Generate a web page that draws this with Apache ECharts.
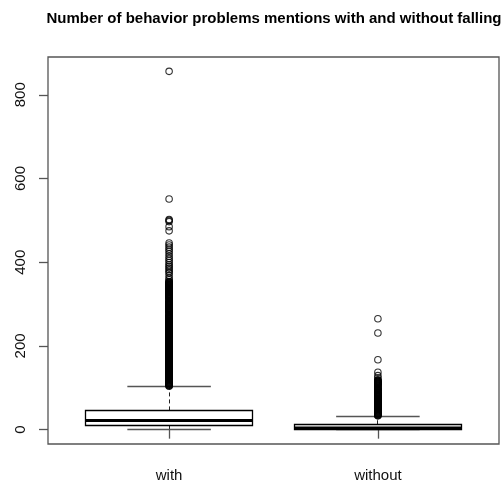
<!DOCTYPE html>
<html>
<head>
<meta charset="utf-8">
<script src="https://cdn.jsdelivr.net/npm/echarts@6/dist/echarts.min.js"></script>
<style>
  html, body { margin: 0; padding: 0; background: #fff; }
  #chart { width: 501px; height: 491px; }
</style>
</head>
<body>
<div id="chart"></div>
<script>
// Groups and their five-number summaries
const categories = ['with', 'without'];
const whiskerLow  = [0, 0];
const quartile1   = [10, 1];
const medians     = [22, 4];
const quartile3   = [46, 13];
const whiskerHigh = [102, 32];

// Points beyond the upper whisker, per group
const outliersWith = [
  104, 105, 106, 107, 108, 109, 110, 111, 112, 113, 114, 115, 116, 117, 118, 119,
  120, 121, 122, 123, 124, 125, 126, 127, 128, 129, 130, 131, 132, 133, 134, 135,
  136, 137, 138, 139, 140, 141, 142, 143, 144, 145, 146, 147, 148, 149, 150, 151,
  152, 153, 154, 155, 156, 157, 158, 159, 160, 161, 162, 163, 164, 165, 166, 167,
  168, 169, 170, 171, 172, 173, 174, 175, 176, 177, 178, 179, 180, 181, 182, 183,
  184, 185, 186, 187, 188, 189, 190, 191, 192, 193, 194, 195, 196, 197, 198, 199,
  200, 201, 202, 203, 204, 205, 206, 207, 208, 209, 210, 211, 212, 213, 214, 215,
  216, 217, 218, 219, 220, 221, 222, 223, 224, 225, 226, 227, 228, 229, 230, 231,
  232, 233, 234, 235, 236, 237, 238, 239, 240, 241, 242, 243, 244, 245, 246, 247,
  248, 249, 250, 251, 252, 253, 254, 255, 256, 257, 258, 259, 260, 261, 262, 263,
  264, 265, 266, 267, 268, 269, 270, 271, 272, 273, 274, 275, 279, 280, 281, 282,
  283, 284, 285, 286, 287, 288, 289, 290, 291, 292, 293, 294, 295, 296, 297, 298,
  299, 300, 301, 302, 303, 304, 305, 306, 307, 308, 312, 313, 314, 315, 316, 317,
  318, 319, 320, 321, 322, 323, 324, 325, 326, 327, 328, 329, 330, 331, 332, 333,
  334, 335, 336, 337, 338, 339, 340, 341, 342, 343, 344, 345, 346, 347, 348, 349,
  350, 351, 352, 353, 354,
  358, 362, 368, 374, 378, 382, 386, 390, 394, 399, 404, 409, 414, 420, 426, 431,
  436, 441, 446, 475, 485, 497, 500, 502, 551, 856
];
const outliersWithout = [
  33, 34, 35, 36, 37, 38, 39, 40, 41, 42, 43, 44, 45, 46, 47, 48, 49, 50, 51, 52,
  53, 54, 55, 56, 57, 58, 59, 60, 61, 62, 63, 64, 65, 66, 67, 68, 69, 70, 71, 72,
  73, 74, 75, 76, 77, 78, 79, 80, 81, 82, 83, 84, 85, 86, 87, 88, 89, 90, 93, 94,
  95, 96, 97, 98, 99, 100, 104, 105, 106, 107, 108, 109, 110, 111, 112, 113, 114,
  115, 116, 117, 118, 119, 124, 129, 137, 167, 231, 265
];

// Value axis ticks
const yTicks = [0, 200, 400, 600, 800];
const xTicks = [1, 2];

const boxData = categories.map((c, i) => [
  i + 1, whiskerLow[i], quartile1[i], medians[i], quartile3[i], whiskerHigh[i]
]);
const outlierData = [];
outliersWith.forEach(v => outlierData.push([1, v]));
outliersWithout.forEach(v => outlierData.push([2, v]));

const boxHalf = 0.4;   // half box width in group units
const capHalf = 0.2;   // half staple width

function crisp(v) { return Math.round(v - 0.5) + 0.5; }

function renderBox(params, api) {
  const x = api.value(0);
  const lo = api.value(1), q1 = api.value(2), med = api.value(3),
        q3 = api.value(4), hi = api.value(5);
  const pL = api.coord([x - boxHalf, q3]);
  const pR = api.coord([x + boxHalf, q1]);
  const pMedL = api.coord([x - boxHalf, med]);
  const pMedR = api.coord([x + boxHalf, med]);
  const pc = api.coord([x, 0]);
  const cx = crisp(pc[0]);
  const yLo = api.coord([x, lo])[1], yHi = api.coord([x, hi])[1];
  const yQ1 = api.coord([x, q1])[1], yQ3 = api.coord([x, q3])[1];
  const capL = api.coord([x - capHalf, hi])[0], capR = api.coord([x + capHalf, hi])[0];
  const ink = '#000';
  const wisk = '#555';
  return {
    type: 'group',
    children: [
      // whiskers
      { type: 'line', shape: { x1: cx, y1: yQ3, x2: cx, y2: yHi },
        style: { stroke: '#222', lineWidth: 1, lineDash: [4, 3] } },
      { type: 'line', shape: { x1: cx, y1: yQ1, x2: cx, y2: yLo },
        style: { stroke: '#222', lineWidth: 1, lineDash: [4, 3] } },
      // staples
      { type: 'line', shape: { x1: capL, y1: crisp(yHi), x2: capR, y2: crisp(yHi) },
        style: { stroke: wisk, lineWidth: 1.3 } },
      { type: 'line', shape: { x1: capL, y1: crisp(yLo), x2: capR, y2: crisp(yLo) },
        style: { stroke: wisk, lineWidth: 1.3 } },
      // box
      { type: 'rect',
        shape: { x: crisp(pL[0]), y: crisp(pL[1]), width: Math.round(pR[0] - pL[0]), height: Math.round(pR[1] - pL[1]) },
        style: { fill: 'rgba(0,0,0,0)', stroke: ink, lineWidth: 1.3 } },
      // median
      { type: 'line', shape: { x1: pMedL[0], y1: pMedL[1], x2: pMedR[0], y2: pMedR[1] },
        style: { stroke: ink, lineWidth: 3 } }
    ]
  };
}

const chart = echarts.init(document.getElementById('chart'), null, { renderer: 'canvas' });
chart.setOption({
  animation: false,
  backgroundColor: '#fff',
  title: {
    text: 'Number of behavior problems mentions with and without falling',
    left: 274,
    top: 11,
    padding: 0,
    textAlign: 'center',
    textStyle: {
      fontFamily: 'Liberation Sans, Arial, sans-serif',
      fontSize: 15,
      fontWeight: 'bold',
      color: '#000'
    }
  },
  grid: {
    left: 48, top: 57, right: 2, bottom: 47,
    show: true, borderColor: '#555', borderWidth: 1.3,
    backgroundColor: 'rgba(0,0,0,0)', containLabel: false
  },
  xAxis: {
    type: 'value',
    min: 0.42, max: 2.58,
    splitLine: { show: false },
    axisLine: { show: false },
    axisTick: { show: true, customValues: xTicks, length: 9, lineStyle: { color: '#555', width: 1.3 } },
    axisLabel: {
      customValues: xTicks,
      formatter: v => categories[Math.round(v) - 1],
      margin: 24,
      fontFamily: 'Liberation Sans, Arial, sans-serif',
      fontSize: 15,
      color: '#111'
    }
  },
  yAxis: {
    type: 'value',
    min: -34.24, max: 890.24,
    splitLine: { show: false },
    axisLine: { show: false },
    axisTick: { show: true, customValues: yTicks, length: 9, lineStyle: { color: '#555', width: 1.3 } },
    axisLabel: {
      customValues: yTicks,
      rotate: 90,
      margin: 20,
      fontFamily: 'Liberation Sans, Arial, sans-serif',
      fontSize: 15,
      color: '#111'
    }
  },
  series: [
    {
      type: 'custom',
      renderItem: renderBox,
      data: boxData,
      encode: { x: 0, y: [1, 2, 3, 4, 5] },
      clip: false,
      z: 2
    },
    {
      type: 'scatter',
      data: outlierData,
      symbol: 'circle',
      symbolSize: 6.5,
      itemStyle: { color: 'rgba(0,0,0,0)', borderColor: '#000', borderWidth: 1.1 },
      z: 3
    }
  ]
});
</script>
</body>
</html>
